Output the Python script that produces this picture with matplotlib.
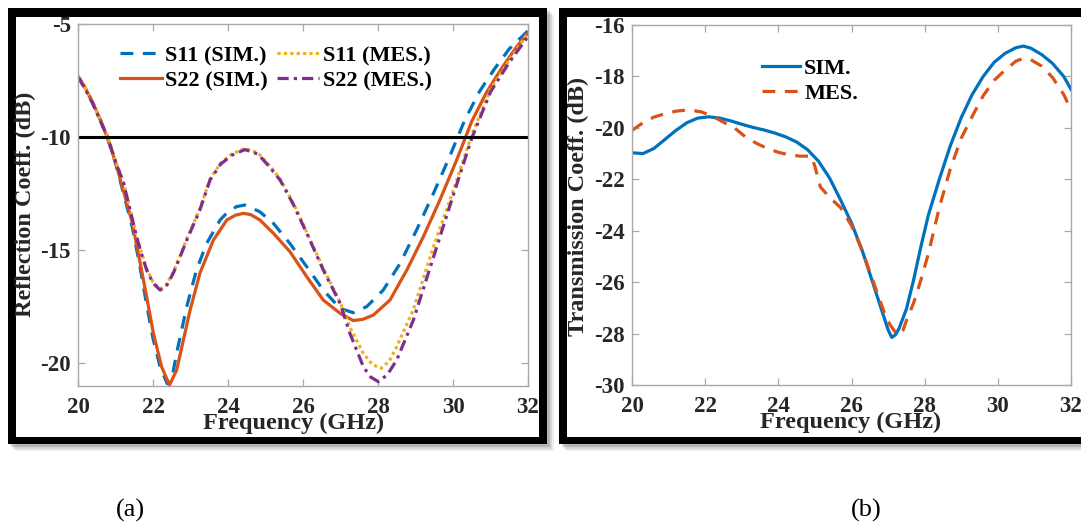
import matplotlib
matplotlib.use("Agg")
import matplotlib.pyplot as plt
from matplotlib.patches import Rectangle

plt.rcParams['font.family'] = ['Liberation Serif', 'DejaVu Serif']
plt.rcParams['font.weight'] = 'bold'
plt.rcParams['axes.unicode_minus'] = False

# ---------------- data (a) ----------------
f_s22_sim = [20.0, 20.2, 20.4, 20.6, 20.8, 21.0, 21.2, 21.45, 21.65, 21.83, 22.01, 22.23, 22.44, 22.63,
             22.81, 22.99, 23.25, 23.61, 23.97, 24.2, 24.41, 24.6, 24.85, 25.21, 25.65, 26.1, 26.54,
             26.99, 27.34, 27.6, 27.88, 28.32, 28.77, 29.21, 29.65, 30.1, 30.5, 30.9, 31.3, 31.7, 32.0]
s22_sim = [-7.3, -7.85, -8.5, -9.25, -10.1, -11.1, -12.3, -13.8, -15.5, -17.05, -18.67, -20.15, -20.96, -20.3,
           -18.97, -17.64, -16.02, -14.55, -13.66, -13.45, -13.37, -13.42, -13.66, -14.25, -15.06, -16.17, -17.2,
           -17.79, -18.11, -18.05, -17.86, -17.2, -15.87, -14.4, -12.78, -11.0, -9.3, -8.0, -6.95, -6.0, -5.4]

f_s11_sim = [20.0, 20.2, 20.4, 20.6, 20.8, 21.0, 21.2, 21.45, 21.65, 21.83, 22.0, 22.19, 22.38, 22.5,
             22.63, 22.9, 23.16, 23.43, 23.79, 24.0, 24.23, 24.45, 24.85, 25.21, 25.65, 26.1, 26.54,
             26.99, 27.34, 27.7, 28.14, 28.59, 29.03, 29.48, 29.9, 30.3, 30.7, 31.1, 31.5, 32.0]
s11_sim = [-7.3, -7.85, -8.5, -9.25, -10.1, -11.15, -12.4, -14.0, -15.7, -17.4, -18.9, -20.15, -20.9, -20.7,
           -19.55, -17.49, -15.87, -14.7, -13.66, -13.3, -13.07, -13.0, -13.3, -13.81, -14.7, -15.73, -16.76,
           -17.57, -17.76, -17.49, -16.76, -15.58, -14.1, -12.48, -10.9, -9.3, -8.0, -7.0, -6.1, -5.3]

f_s11_mes = [20.0, 20.2, 20.4, 20.6, 20.8, 21.0, 21.21, 21.4, 21.56, 21.7, 21.83, 22.0, 22.19, 22.35,
             22.54, 22.72, 22.9, 23.25, 23.52, 23.8, 24.1, 24.45, 24.8, 25.1, 25.39, 25.75, 26.1, 26.54,
             26.99, 27.25, 27.61, 27.85, 28.08, 28.3, 28.5, 28.94, 29.48, 30.0, 30.5, 31.0, 31.5, 32.0]
s11_mes = [-7.3, -7.85, -8.5, -9.25, -10.0, -11.05, -11.95, -13.25, -14.35, -15.15, -15.82, -16.4, -16.72, -16.55,
           -15.97, -15.25, -14.5, -13.17, -11.85, -11.15, -10.75, -10.5, -10.7, -11.25, -11.85, -12.95, -14.2, -15.8,
           -17.3, -18.4, -19.56, -20.05, -20.22, -19.9, -19.26, -17.64, -14.84, -12.4, -9.9, -7.9, -6.6, -5.4]

f_s22_mes = [20.0, 20.2, 20.4, 20.6, 20.8, 21.0, 21.21, 21.4, 21.56, 21.7, 21.83, 22.0, 22.19, 22.35,
             22.54, 22.72, 22.9, 23.25, 23.52, 23.8, 24.1, 24.45, 24.8, 25.1, 25.39, 25.75, 26.1, 26.54,
             26.99, 27.25, 27.61, 27.8, 28.01, 28.25, 28.5, 28.94, 29.5, 30.0, 30.5, 31.0, 31.5, 32.0]
s22_mes = [-7.35, -7.9, -8.55, -9.3, -10.05, -11.1, -12.0, -13.3, -14.4, -15.2, -15.87, -16.45, -16.76, -16.6,
           -16.02, -15.3, -14.55, -13.22, -11.9, -11.2, -10.8, -10.55, -10.75, -11.3, -11.9, -13.0, -14.25, -15.87,
           -17.35, -18.67, -20.15, -20.6, -20.81, -20.5, -19.85, -18.1, -15.2, -12.6, -10.05, -8.0, -6.7, -5.55]

ref_level = -10

# ---------------- data (b) ----------------
f_t_sim = [20.0, 20.3, 20.6, 20.9, 21.2, 21.5, 21.8, 22.1, 22.4, 22.7, 23.0, 23.3, 23.6, 23.9, 24.2,
           24.5, 24.8, 25.1, 25.4, 25.7, 26.0, 26.3, 26.6, 26.85, 27.0, 27.1, 27.2, 27.3, 27.5, 27.7,
           27.9, 28.1, 28.4, 28.7, 29.0, 29.3, 29.6, 29.9, 30.2, 30.5, 30.7, 30.9, 31.2, 31.5, 31.8, 32.0]
t_sim = [-20.97, -21.0, -20.8, -20.45, -20.1, -19.8, -19.62, -19.57, -19.62, -19.73, -19.86, -19.98, -20.08, -20.2, -20.35,
         -20.55, -20.85, -21.3, -21.95, -22.8, -23.7, -24.8, -26.1, -27.2, -27.85, -28.15, -28.05, -27.8, -27.05, -25.9,
         -24.6, -23.4, -22.0, -20.7, -19.6, -18.7, -18.0, -17.45, -17.1, -16.88, -16.82, -16.9, -17.15, -17.5, -18.0, -18.5]

f_t_mes = [20.0, 20.3, 20.6, 20.9, 21.2, 21.55, 21.9, 22.2, 22.5, 22.8, 23.1, 23.4, 23.7, 24.0, 24.3,
           24.6, 24.9, 25.0, 25.15, 25.4, 25.7, 26.0, 26.3, 26.6, 26.9, 27.05, 27.2, 27.3, 27.4, 27.5, 27.7,
           27.9, 28.1, 28.4, 28.7, 29.0, 29.3, 29.6, 29.9, 30.2, 30.5, 30.7, 30.9, 31.2, 31.5, 31.8, 32.0]
t_mes = [-20.1, -19.8, -19.58, -19.45, -19.35, -19.3, -19.38, -19.55, -19.78, -20.0, -20.35, -20.6, -20.8, -20.95, -21.05,
         -21.1, -21.1, -21.5, -22.3, -22.7, -23.1, -23.8, -24.8, -26.0, -27.2, -27.65, -27.95, -28.05, -27.9, -27.5, -26.8,
         -25.9, -24.9, -23.1, -21.6, -20.4, -19.55, -18.75, -18.15, -17.75, -17.4, -17.3, -17.35, -17.6, -18.05, -18.7, -19.3]

x_ticks = [20, 22, 24, 26, 28, 30, 32]
y_ticks_a = [-20, -15, -10, -5]
y_ticks_b = [-30, -28, -26, -24, -22, -20, -18, -16]

C_BLUE = '#0072BD'
C_ORANGE = '#D95319'
C_YELLOW = '#EDB120'
C_PURPLE = '#7E2F8E'

W, H = 1081, 525
fig = plt.figure(figsize=(W / 100, H / 100), dpi=100)


def px_rect(x0, y0, x1, y1, **kw):
    """rectangle given in pixel coords from top-left"""
    r = Rectangle((x0 / W, 1 - y1 / H), (x1 - x0) / W, (y1 - y0) / H,
                  transform=fig.transFigure, **kw)
    fig.patches.append(r)
    return r


# frames with soft shadow
for (x0, y0, x1, y1) in [(8, 8, 547, 444), (559, 8, 1095, 444)]:
    for k, a in [(7, 0.10), (5, 0.15), (3, 0.25)]:
        px_rect(x0 + k, y0 + k, x1 + k, y1 + k, facecolor='#555555', edgecolor='none', alpha=a, zorder=0)
    px_rect(x0, y0, x1, y1, facecolor='black', edgecolor='none', zorder=1)
    px_rect(x0 + 8, y0 + 9, x1 - 8, y1 - 7, facecolor='white', edgecolor='none', zorder=2)


def style_axes(ax):
    ax.set_zorder(5)
    for s in ax.spines.values():
        s.set_color('#a8a8a8')
        s.set_linewidth(1.0)
    ax.tick_params(direction='in', length=5, width=0.9, color='#a8a8a8',
                   top=True, right=True, labelsize=16.5, labelcolor='#262626')
    ax.tick_params(axis='x', pad=8)
    ax.tick_params(axis='y', pad=5)
    for lab in ax.get_xticklabels() + ax.get_yticklabels():
        lab.set_fontweight('bold')


# ---------------- panel (a) ----------------
axa = fig.add_axes([78 / W, 1 - 386 / H, 450 / W, 362 / H])
axa.plot(f_s11_sim, s11_sim, color=C_BLUE, lw=2.3, dashes=(4, 3), label='S11 (SIM.)')
axa.plot(f_s22_sim, s22_sim, color=C_ORANGE, lw=2.3, label='S22 (SIM.)')
axa.plot(f_s11_mes, s11_mes, color=C_YELLOW, lw=2.3, dashes=(1, 1), label='S11 (MES.)')
axa.plot(f_s22_mes, s22_mes, color=C_PURPLE, lw=2.3, dashes=(3.5, 1.6, 1, 1.6), label='S22 (MES.)')
axa.axhline(ref_level, color='black', lw=2.2)
axa.set_xlim(20, 32)
axa.set_ylim(-21, -5)
axa.set_xticks(x_ticks)
axa.set_yticks(y_ticks_a)
style_axes(axa)
axa.set_xlabel('Frequency (GHz)', fontsize=17.5, fontweight='bold', color='#262626', va='center')
axa.xaxis.set_label_coords(0.48, -0.102)
axa.set_ylabel('Reflection Coeff. (dB)', fontsize=17.5, fontweight='bold', color='#262626', va='center')
axa.yaxis.set_label_coords(-0.116, 0.503)
axa.legend(ncol=2, loc='upper left',
           bbox_to_anchor=(0.093, 0.94), frameon=False, borderpad=0, borderaxespad=0,
           handlelength=1.9, handletextpad=0.15, columnspacing=0.4, labelspacing=0.2,
           prop={'size': 16, 'weight': 'bold'})

# ---------------- panel (b) ----------------
axb = fig.add_axes([632 / W, 1 - 385 / H, 439 / W, 360 / H])
axb.plot(f_t_sim, t_sim, color=C_BLUE, lw=2.3, label='SIM.')
axb.plot(f_t_mes, t_mes, color=C_ORANGE, lw=2.3, dashes=(4, 3), label='MES.')
axb.set_xlim(20, 32)
axb.set_ylim(-30, -16)
axb.set_xticks(x_ticks)
axb.set_yticks(y_ticks_b)
style_axes(axb)
axb.set_xlabel('Frequency (GHz)', fontsize=17.5, fontweight='bold', color='#262626', va='center')
axb.xaxis.set_label_coords(0.497, -0.103)
axb.set_ylabel('Transmission Coeff. (dB)', fontsize=17.5, fontweight='bold', color='#262626', va='center')
axb.yaxis.set_label_coords(-0.123, 0.497)
axb.legend(loc='upper left', bbox_to_anchor=(0.296, 0.907), frameon=False, borderpad=0,
           borderaxespad=0, handlelength=1.7, handletextpad=0.2, labelspacing=0.2,
           prop={'size': 16, 'weight': 'bold'})

# captions
fig.text(130 / W, 1 - 510 / H, '(a)', ha='center', va='center', fontsize=19, fontweight='normal')
fig.text(866 / W, 1 - 510 / H, '(b)', ha='center', va='center', fontsize=19, fontweight='normal')

fig.savefig('out.png', dpi=100)
